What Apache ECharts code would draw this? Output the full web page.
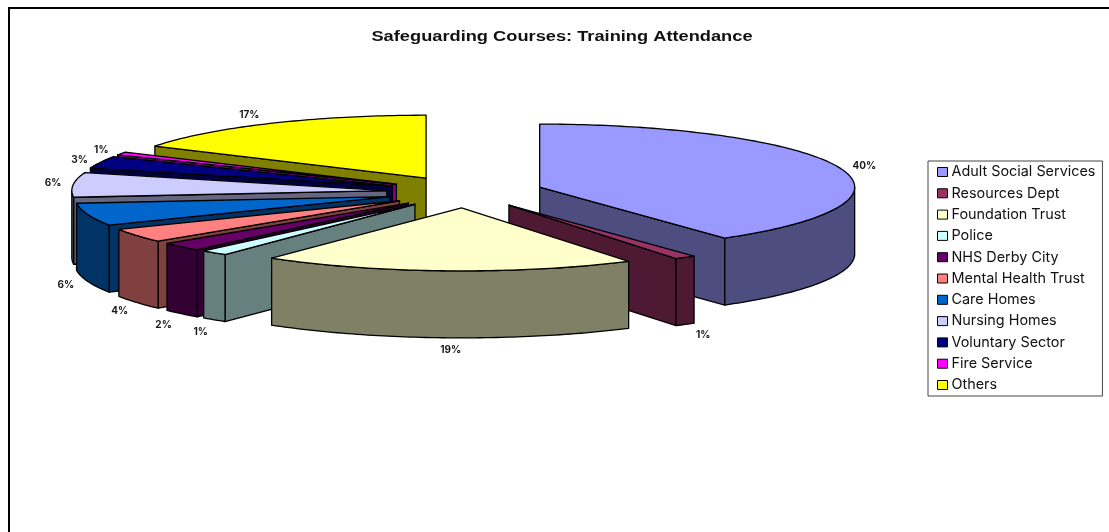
<!DOCTYPE html>
<html>
<head>
<meta charset="utf-8">
<style>html,body{margin:0;padding:0;background:#fff}#c{width:1109px;height:532px}</style>
<script src="https://cdn.jsdelivr.net/npm/echarts@6/dist/echarts.min.js"></script>
</head>
<body>
<div id="c"></div>
<script>
const titleText = 'Safeguarding Courses: Training Attendance';
const categories = ['Adult Social Services','Resources Dept','Foundation Trust','Police','NHS Derby City','Mental Health Trust','Care Homes','Nursing Homes','Voluntary Sector','Fire Service','Others'];
const values = [40,1.1,19.2,1.4,2.2,3.6,5.8,6.3,3.1,0.79,16.51];
const topColors = ['#9999FF','#993366','#FFFFCC','#CCFFFF','#660066','#FF8080','#0066CC','#CCCCFF','#000080','#FF00FF','#FFFF00'];
const sideColors = ['#4D4D80','#4D1933','#808066','#668080','#330033','#804040','#003366','#666680','#000040','#800080','#808000'];
const labelNudge = [[25,-1.5],[18,11],[3,12],[-13.5,12],[-18,11],[-17,8],[-22,4],[-20,-2],[-21,-2.5],[-20,-4],[-20.6,-8]];

// Oblique projection of the exploded pie
const pie = {cx:465, cy:192, rx:315, ry:63, depth:67, explodeX:78.5, explodeY:15.9};
const total = values.reduce((a,b)=>a+b,0);
const DEG = Math.PI/180;
const starts = []; values.reduce((acc,v,i)=>{starts[i]=acc;return acc+v;},0);

function wedge(i){
  const a0 = starts[i]/total*360, a1 = (starts[i]+values[i])/total*360, m=(a0+a1)/2;
  const ox = pie.cx + pie.explodeX*Math.sin(m*DEG), oy = pie.cy - pie.explodeY*Math.cos(m*DEG);
  const pt = (a,d)=>[ox+pie.rx*Math.sin(a*DEG), oy-pie.ry*Math.cos(a*DEG)+(d||0)];
  return {a0,a1,m,ox,oy,pt};
}
function arc(w,from,to,d){
  const n=Math.max(2,Math.ceil(Math.abs(to-from))), r=[];
  for(let k=0;k<=n;k++) r.push(w.pt(from+(to-from)*k/n,d));
  return r;
}
function renderSlice(i){
  return function(){
    const w = wedge(i), D = pie.depth, kids=[];
    const line = {stroke:'#000',lineWidth:1.3,lineJoin:'round'};
    const poly=(points,fill)=>kids.push({type:'polygon',shape:{points},style:Object.assign({fill},line)});
    const face=(a)=>poly([[w.ox,w.oy],w.pt(a),w.pt(a,D),[w.ox,w.oy+D]],sideColors[i]);
    if(Math.sin(w.a0*DEG)<0) face(w.a0);
    if(Math.sin(w.a1*DEG)>0) face(w.a1);
    const f0=Math.max(w.a0,90), f1=Math.min(w.a1,270);
    if(f1>f0) poly(arc(w,f0,f1,0).concat(arc(w,f1,f0,D)),sideColors[i]);
    poly([[w.ox,w.oy]].concat(arc(w,w.a0,w.a1,0)),topColors[i]);
    const rim=w.pt(w.m, Math.cos(w.m*DEG)<0?D:0);
    kids.push({type:'text',style:{text:Math.round(values[i]/total*100)+'%',x:rim[0]+labelNudge[i][0],y:rim[1]+labelNudge[i][1],
      align:'center',verticalAlign:'middle',fontFamily:'Inter,"Liberation Sans",sans-serif',fontWeight:'bold',fontSize:10,fill:'#1a1a1a'}});
    return {type:'group',children:kids};
  };
}
const order = categories.map((_,i)=>i).sort((p,q)=>wedge(p).oy-wedge(q).oy);
const series = order.map(i=>({
  type:'custom',name:categories[i],coordinateSystem:'none',silent:true,
  itemStyle:{color:topColors[i]},data:[[values[i]]],renderItem:renderSlice(i),animation:false
}));
const chart = echarts.init(document.getElementById('c'),null,{renderer:'canvas'});
chart.setOption({
  animation:false,backgroundColor:'#fff',
  legend:{orient:'vertical',left:928,top:161,padding:[4,7,4,9],itemGap:7.3,itemWidth:10,itemHeight:9,selectedMode:false,
    icon:'rect',borderColor:'#444',borderWidth:1,backgroundColor:'#fff',data:categories,
    itemStyle:{borderColor:'#000',borderWidth:1},
    textStyle:{fontFamily:'Inter,"Liberation Sans",sans-serif',fontSize:14.4,color:'#111',padding:[0,0,0,-1],lineHeight:14}},
  graphic:[
    {type:'polyline',shape:{points:[[9,532],[9,8],[1109,8]]},style:{fill:'none',stroke:'#000',lineWidth:2},silent:true},
    {type:'text',x:562,y:36.5,scaleX:1.258,silent:true,
      style:{text:titleText,x:0,y:0,align:'center',verticalAlign:'middle',fontFamily:'"Liberation Sans",Arial,sans-serif',fontWeight:'bold',fontSize:14.5,fill:'#111'}}
  ],
  series
});
</script>
</body>
</html>
